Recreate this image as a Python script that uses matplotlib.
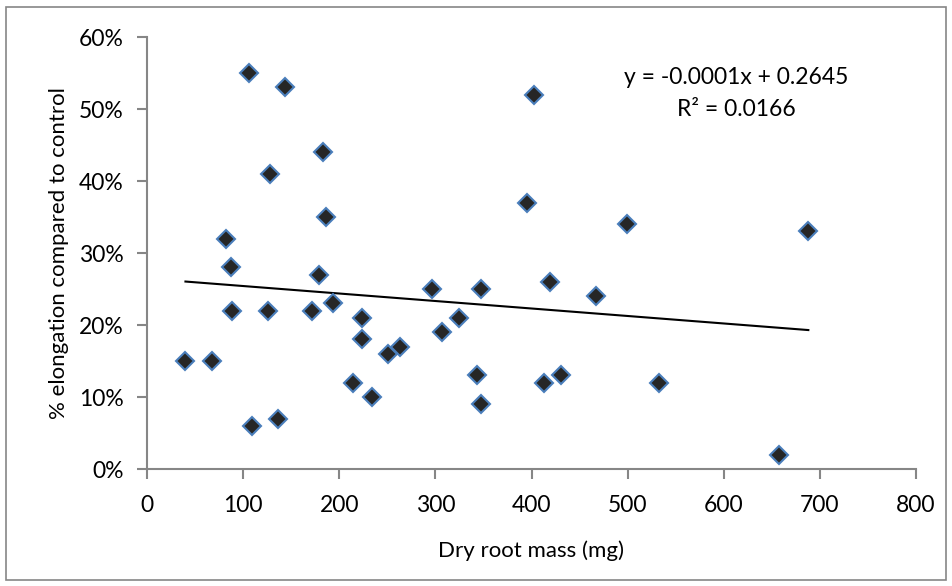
import matplotlib
matplotlib.use("Agg")
import matplotlib.pyplot as plt
from matplotlib.patches import Rectangle
from matplotlib.ticker import PercentFormatter
import numpy as np

plt.rcParams["font.family"] = ["Lato", "DejaVu Sans"]

AXIS = "#868686"
FILL = "#262626"
EDGE = "#4a7ebb"

# dry root mass (mg) vs elongation compared to control (fraction)
root_mass = [40, 68, 82, 87, 88, 106, 109, 126, 128, 136, 144, 172, 179, 183, 186,
             193, 214, 224, 224, 234, 251, 263, 296, 307, 325, 343, 347, 347,
             395, 403, 413, 419, 431, 467, 499, 533, 657, 688]
elongation = [0.15, 0.15, 0.32, 0.28, 0.22, 0.55, 0.06, 0.22, 0.41, 0.07, 0.53, 0.22,
              0.27, 0.44, 0.35, 0.23, 0.12, 0.21, 0.18, 0.10, 0.16, 0.17, 0.25, 0.19,
              0.21, 0.13, 0.25, 0.09, 0.37, 0.52, 0.12, 0.26, 0.13, 0.24, 0.34,
              0.12, 0.02, 0.33]

# linear trendline as reported on the chart
slope, intercept, r2 = -0.0001, 0.2645, 0.0166

x = np.array(root_mass)
y = np.array(elongation)
fit = np.polyfit(x, y, 1)
xs = np.array([x.min(), x.max()])

fig = plt.figure(figsize=(9.53, 5.86), dpi=100)
ax = fig.add_axes([147 / 953, 1 - 469 / 586, (916 - 147) / 953, (469 - 37) / 586])

ax.plot(xs, np.polyval(fit, xs), color="black", lw=1.5, zorder=2)
ax.plot(x, y, ls="none", marker="D", ms=9.5, mfc=FILL, mec=EDGE, mew=1.5, zorder=3)

ax.set_xlim(0, 800)
ax.set_ylim(0, 0.6)
ax.set_xticks(np.arange(0, 801, 100))
ax.set_yticks(np.arange(0, 0.61, 0.1))
ax.yaxis.set_major_formatter(PercentFormatter(1.0, decimals=0))

for sp in ("top", "right"):
    ax.spines[sp].set_visible(False)
for sp in ("left", "bottom"):
    ax.spines[sp].set_color(AXIS)
    ax.spines[sp].set_linewidth(1.5)
ax.tick_params(direction="out", length=7, width=1.5, color=AXIS, labelsize=16.5,
               labelcolor="black")
ax.tick_params(axis="x", pad=12)
ax.tick_params(axis="y", pad=10)

ax.set_xlabel("Dry root mass (mg)", fontsize=16)
ax.set_ylabel("% elongation compared to control", fontsize=16)
ax.xaxis.set_label_coords(0.5, -0.165)
ax.yaxis.set_label_coords(-0.102, 0.5)

ax.text(736 / 953, 1 - 77 / 586, f"y = {slope:.4f}x + {intercept:.4f}",
        transform=fig.transFigure, ha="center", va="center", fontsize=16.5)
ax.text(736 / 953, 1 - 109 / 586, f"R\u00b2 = {r2:.4f}",
        transform=fig.transFigure, ha="center", va="center", fontsize=16.5)

fig.patches.append(Rectangle((6 / 953, 1 - 580 / 586), 940 / 953, 573 / 586,
                             transform=fig.transFigure, fill=False,
                             edgecolor=AXIS, lw=1.2))

fig.savefig("out.png", dpi=100, facecolor="white")
